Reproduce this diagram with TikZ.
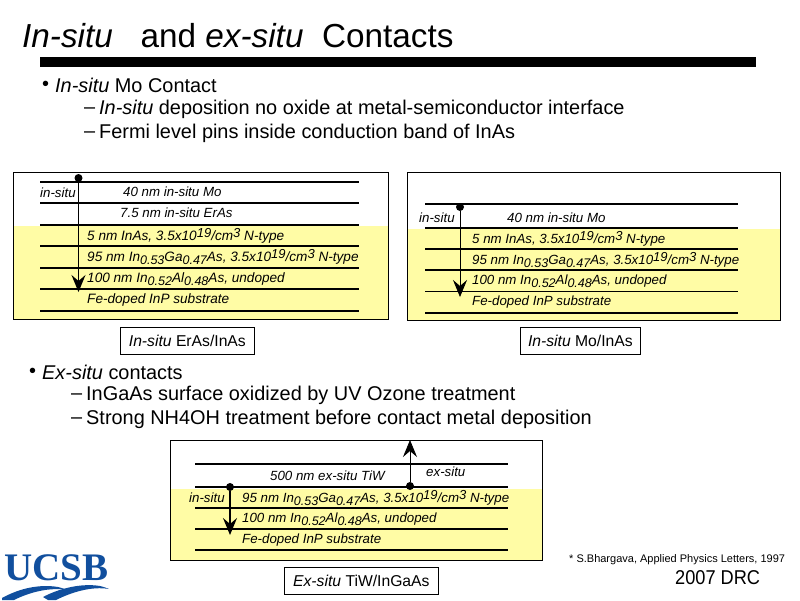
\documentclass[tikz,border=0pt]{standalone}
\usepackage{fontspec}
\setmainfont{Liberation Sans}
\newfontfamily\logofont{Liberation Serif}
\usetikzlibrary{arrows.meta}
\definecolor{paleyellow}{HTML}{FFFCA5}
\definecolor{logoblue}{HTML}{114F9E}
\newcommand{\hi}[1]{\raisebox{3.4pt}{\fontsize{13}{13}\selectfont #1}}
\newcommand{\lo}[1]{\raisebox{-3pt}{\fontsize{12.5}{12.5}\selectfont #1}}
\begin{document}
\begin{tikzpicture}[x=1pt,y=-1pt]
\tikzstyle{heading}=[anchor=west,inner sep=0pt,font=\fontsize{33.3}{36}\selectfont]
\tikzstyle{itemtext}=[anchor=west,inner sep=0pt,font=\fontsize{19.9}{22}\selectfont]
\tikzstyle{layertext}=[anchor=west,inner sep=0pt,font=\fontsize{13.3}{14}\selectfont\itshape]
\tikzstyle{widetext}=[anchor=west,inner sep=0pt,font=\fontsize{13.6}{14}\selectfont\itshape]
\tikzstyle{panel}=[draw=black,line width=0.8pt]
\tikzstyle{caption}=[draw=black,line width=0.7pt,anchor=north west,inner sep=0pt,font=\fontsize{15.7}{18}\selectfont]
\tikzstyle{layer}=[line width=1.5pt]
\tikzstyle{mydot}=[circle,fill,inner sep=0pt,minimum size=8pt]
\tikzstyle{myarrow}=[line width=1.4pt,-{Stealth[length=17pt,width=14pt,inset=6pt]}]

\useasboundingbox (0,0) rectangle (800,600);

% title
\node[heading] (title) at (22,36) {\textit{In-situ}\ \ \ and \textit{ex-situ}\ \ Contacts};
\fill (40,57) rectangle (756,67);

% first list
\node[itemtext] (b1) at (42,86) {•};
\node[itemtext] (t1) at (55,85) {\textit{In-situ} Mo Contact};
\node[itemtext] (d1) at (84,111) {–};
\node[itemtext] (t2) at (99,109) {\textit{In-situ} deposition no oxide at metal-semiconductor interface};
\node[itemtext] (d2) at (84,135) {–};
\node[itemtext] (t3) at (99,133) {Fermi level pins inside conduction band of InAs};

% left panel
\fill[paleyellow] (13,226) rectangle (388,319);
\draw[panel] (13,172) rectangle (388,319);
\foreach \n/\y in {a/182,b/203,c/225,d/246,e/268,f/289,g/311}{
  \coordinate (l\n) at (40,\y);
  \coordinate (r\n) at (359,\y);
  \draw[layer] (l\n) -- (r\n);
}
\node[mydot] (s1) at (78.5,178) {};
\coordinate (e1) at (78.5,292);
\draw[myarrow] (s1) -- (e1);
\node[layertext] (in1) at (40,193) {in-situ};
\node[layertext] at (123,192) {40 nm in-situ Mo};
\node[layertext] at (120,213) {7.5 nm in-situ ErAs};
\node[widetext] at (87,236) {5 nm InAs, 3.5x10\hi{19}/cm\hi{3} N-type};
\node[widetext] at (87,257) {95 nm In\lo{0.53}Ga\lo{0.47}As, 3.5x10\hi{19}/cm\hi{3} N-type};
\node[widetext] at (87,279) {100 nm In\lo{0.52}Al\lo{0.48}As, undoped};
\node[widetext] at (87,300) {Fe-doped InP substrate};
\node[caption,minimum width=134pt,minimum height=27pt] (c1) at (120,327) {\textit{In-situ} ErAs/InAs};

% right panel
\fill[paleyellow] (407,229) rectangle (780,320);
\draw[panel] (407,172) rectangle (780,320);
\foreach \n/\y/\w in {h/204/1.5,i/228/1.5,j/249/1.5,k/270/1.5,m/291/0.8,o/313/1.5}{
  \coordinate (l\n) at (425,\y);
  \coordinate (r\n) at (738,\y);
  \draw[layer,line width=\w pt] (l\n) -- (r\n);
}
\node[mydot] (s2) at (460,207) {};
\coordinate (e2) at (460,297);
\draw[myarrow,line width=0.8pt] (s2) -- (e2);
\node[layertext] (in2) at (419,218) {in-situ};
\node[layertext] at (507,218) {40 nm in-situ Mo};
\node[layertext] at (472,239) {5 nm InAs, 3.5x10\hi{19}/cm\hi{3} N-type};
\node[layertext] at (472,260) {95 nm In\lo{0.53}Ga\lo{0.47}As, 3.5x10\hi{19}/cm\hi{3} N-type};
\node[layertext] at (472,281) {100 nm In\lo{0.52}Al\lo{0.48}As, undoped};
\node[layertext] at (472,302) {Fe-doped InP substrate};
\node[caption,minimum width=120pt,minimum height=27pt] (c2) at (520,327) {\textit{In-situ} Mo/InAs};

% second list
\node[itemtext] (b2) at (29,373) {•};
\node[itemtext] (t4) at (42,372) {\textit{Ex-situ} contacts};
\node[itemtext] (d3) at (71,397) {–};
\node[itemtext] (t5) at (86,395) {InGaAs surface oxidized by UV Ozone treatment};
\node[itemtext] (d4) at (71,421) {–};
\node[itemtext] (t6) at (86,419) {Strong NH4OH treatment before contact metal deposition};

% bottom panel
\fill[paleyellow] (170,489) rectangle (542,560);
\draw[panel] (170,440) rectangle (542,560);
\foreach \n/\y in {p/464,q/487,r/508,s/529,t/550}{
  \coordinate (l\n) at (195,\y);
  \coordinate (r\n) at (508,\y);
  \draw[layer] (l\n) -- (r\n);
}
\node[mydot] (s3) at (230,487) {};
\coordinate (e3) at (230,535);
\draw[myarrow] (s3) -- (e3);
\node[mydot] (s4) at (410,486) {};
\coordinate (e4) at (410,440);
\draw[myarrow,line width=0.8pt] (s4) -- (e4);
\node[layertext] (ex1) at (426,472) {ex-situ};
\node[layertext] (in3) at (189,498) {in-situ};
\node[layertext] at (270,476) {500 nm ex-situ TiW};
\node[layertext] at (242,498) {95 nm In\lo{0.53}Ga\lo{0.47}As, 3.5x10\hi{19}/cm\hi{3} N-type};
\node[layertext] at (242,519) {100 nm In\lo{0.52}Al\lo{0.48}As, undoped};
\node[layertext] at (242,540) {Fe-doped InP substrate};
\node[caption,minimum width=154pt,minimum height=27pt] (c3) at (284,567) {\textit{Ex-situ} TiW/InGaAs};

% footer
\node[anchor=west,inner sep=0pt,font=\fontsize{11}{13}\selectfont] (cite) at (569,560) {* S.Bhargava, Applied Physics Letters, 1997};
\node[anchor=west,inner sep=0pt,font=\fontsize{20}{22}\selectfont,xscale=0.91] (drc) at (675,578) {2007 DRC};

% logo
\node[anchor=west,inner sep=0pt,text=logoblue,font=\fontsize{39}{40}\selectfont\logofont\bfseries] (ucsb) at (4,568) {UCSB};
\fill[logoblue] (2,598) .. controls (20,588) and (40,584) .. (58,587) .. controls (62,588) and (65,589) .. (67,590) .. controls (50,587) and (30,592) .. (14,600) -- (2,600) -- cycle;
\fill[logoblue] (43,597) .. controls (60,588) and (82,583) .. (100,586) .. controls (104,587) and (107,588) .. (109,589) .. controls (92,586) and (72,592) .. (56,600) -- (48,600) -- cycle;
\end{tikzpicture}
\end{document}
